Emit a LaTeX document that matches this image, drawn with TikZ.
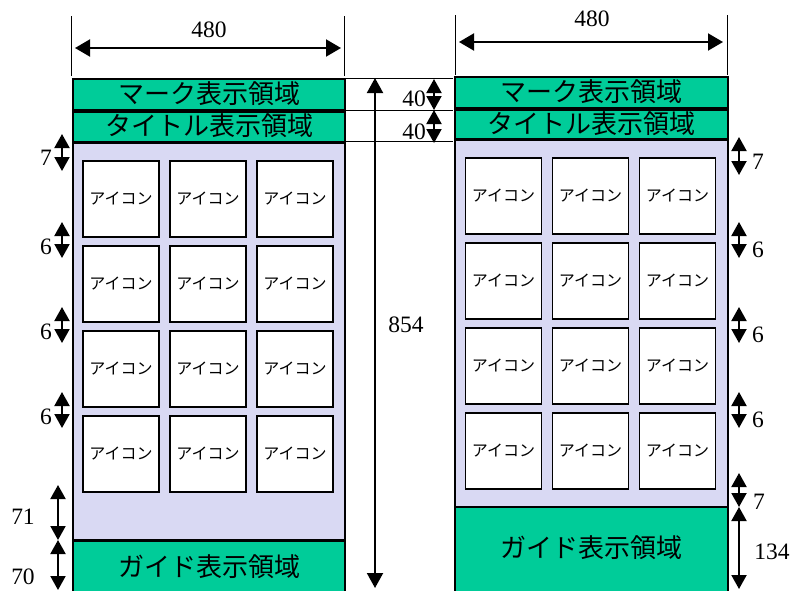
\documentclass[tikz,border=0pt]{standalone}
\usepackage{fontspec}
\setmainfont{Liberation Serif}
\newfontfamily\jpfont{Noto Sans CJK JP}
\usetikzlibrary{arrows.meta}
\definecolor{areagreen}{RGB}{0,204,153}
\definecolor{bodyblue}{RGB}{217,217,243}
\tikzset{
  panel/.style={draw=black,line width=1.8pt},
  iconbox/.style={draw=black,line width=1.6pt,fill=white,minimum width=76pt,minimum height=76pt,inner sep=0pt,font=\jpfont\fontsize{16}{16}\selectfont},
  areatext/.style={inner sep=0pt,font=\jpfont\fontsize{26}{26}\selectfont},
  numlabel/.style={inner sep=0pt,font=\fontsize{23.5}{23.5}\selectfont},
  extline/.style={draw=black,line width=0.8pt},
  widearrow/.style={line width=2pt,{Triangle[length=15pt,width=17pt]}-{Triangle[length=15pt,width=17pt]}},
  longarrow/.style={line width=2pt,{Triangle[length=15pt,width=16pt]}-{Triangle[length=15pt,width=16pt]}},
  gaparrow/.style={line width=2pt,{Triangle[length=14pt,width=15pt]}-{Triangle[length=14pt,width=15pt]}}
}
\begin{document}
\begin{tikzpicture}[x=1pt,y=-1pt]
\useasboundingbox (0,0) rectangle (790,590);
% left screen
\draw[panel,fill=bodyblue] (73,143) rectangle (345,540);
\draw[panel,fill=areagreen] (73,79) rectangle (345,110);
\draw[panel,fill=areagreen] (73,112) rectangle (345,142);
\draw[panel,fill=areagreen] (73,541) rectangle (345,600);
\node[areatext] (lmark) at (209,94) {マーク表示領域};
\node[areatext] (ltitle) at (209,126) {タイトル表示領域};
\node[areatext] (lguide) at (209,567) {ガイド表示領域};
\foreach \c in {0,1,2}
  \foreach \r in {0,1,2,3}
    \node[iconbox] (licon\c\r) at (121+87*\c,199+85*\r) {アイコン};
% right screen
\draw[panel,fill=bodyblue] (455,140) rectangle (728,507);
\draw[panel,fill=areagreen] (455,77) rectangle (728,108);
\draw[panel,fill=areagreen] (455,110) rectangle (728,139);
\draw[panel,fill=areagreen] (455,507) rectangle (728,600);
\node[areatext] (rmark) at (591,92) {マーク表示領域};
\node[areatext] (rtitle) at (591,124) {タイトル表示領域};
\node[areatext] (rguide) at (591,548) {ガイド表示領域};
\foreach \c in {0,1,2}
  \foreach \r in {0,1,2,3}
    \node[iconbox] (ricon\c\r) at (503.5+87*\c,196+85*\r) {アイコン};
% width of both screens
\draw[extline] (71,16) -- (71,76);
\draw[extline] (344,16) -- (344,76);
\draw[widearrow] (75,48) -- (341,48);
\node[numlabel] (lwidth) at (209,30) {480};
\draw[extline] (455,15) -- (455,75);
\draw[extline] (727,15) -- (727,75);
\draw[widearrow] (459,42) -- (723,42);
\node[numlabel] (rwidth) at (592,19) {480};
% heights between the screens
\draw[extline] (346,78) -- (453,78);
\draw[extline] (346,110) -- (453,110);
\draw[extline] (346,141) -- (453,141);
\draw[longarrow] (375,78) -- (375,588);
\node[numlabel] (total) at (406,325) {854};
\draw[gaparrow] (434,79) -- (434,110);
\draw[gaparrow] (434,110) -- (434,143);
\node[numlabel] (markh) at (414,99) {40};
\node[numlabel] (titleh) at (414,132) {40};
% left gaps
\draw[gaparrow] (62,134) -- (62,171);
\node[numlabel] (lgap0) at (46,158) {7};
\foreach \y/\n in {222/1,307/2,392/3}{
  \draw[gaparrow] (62,\y) -- (62,\y+36);
  \node[numlabel] (lgap\n) at (46,\y+25) {6};
}
\draw[gaparrow] (58,485) -- (58,540);
\node[numlabel] (lrest) at (23,517) {71};
\draw[gaparrow] (58,540) -- (58,590);
\node[numlabel] (lguideh) at (23,577) {70};
% right gaps
\draw[gaparrow] (739,137) -- (739,175);
\node[numlabel] (rgap0) at (758,162) {7};
\foreach \y/\n in {222/1,307/2,392/3}{
  \draw[gaparrow] (739,\y) -- (739,\y+36);
  \node[numlabel] (rgap\n) at (758,\y+28) {6};
}
\draw[gaparrow] (739,473) -- (739,507);
\node[numlabel] (rrest) at (759,502) {7};
\draw[gaparrow] (739,507) -- (739,589);
\node[numlabel] (rguideh) at (772,552) {134};
\end{tikzpicture}
\end{document}
